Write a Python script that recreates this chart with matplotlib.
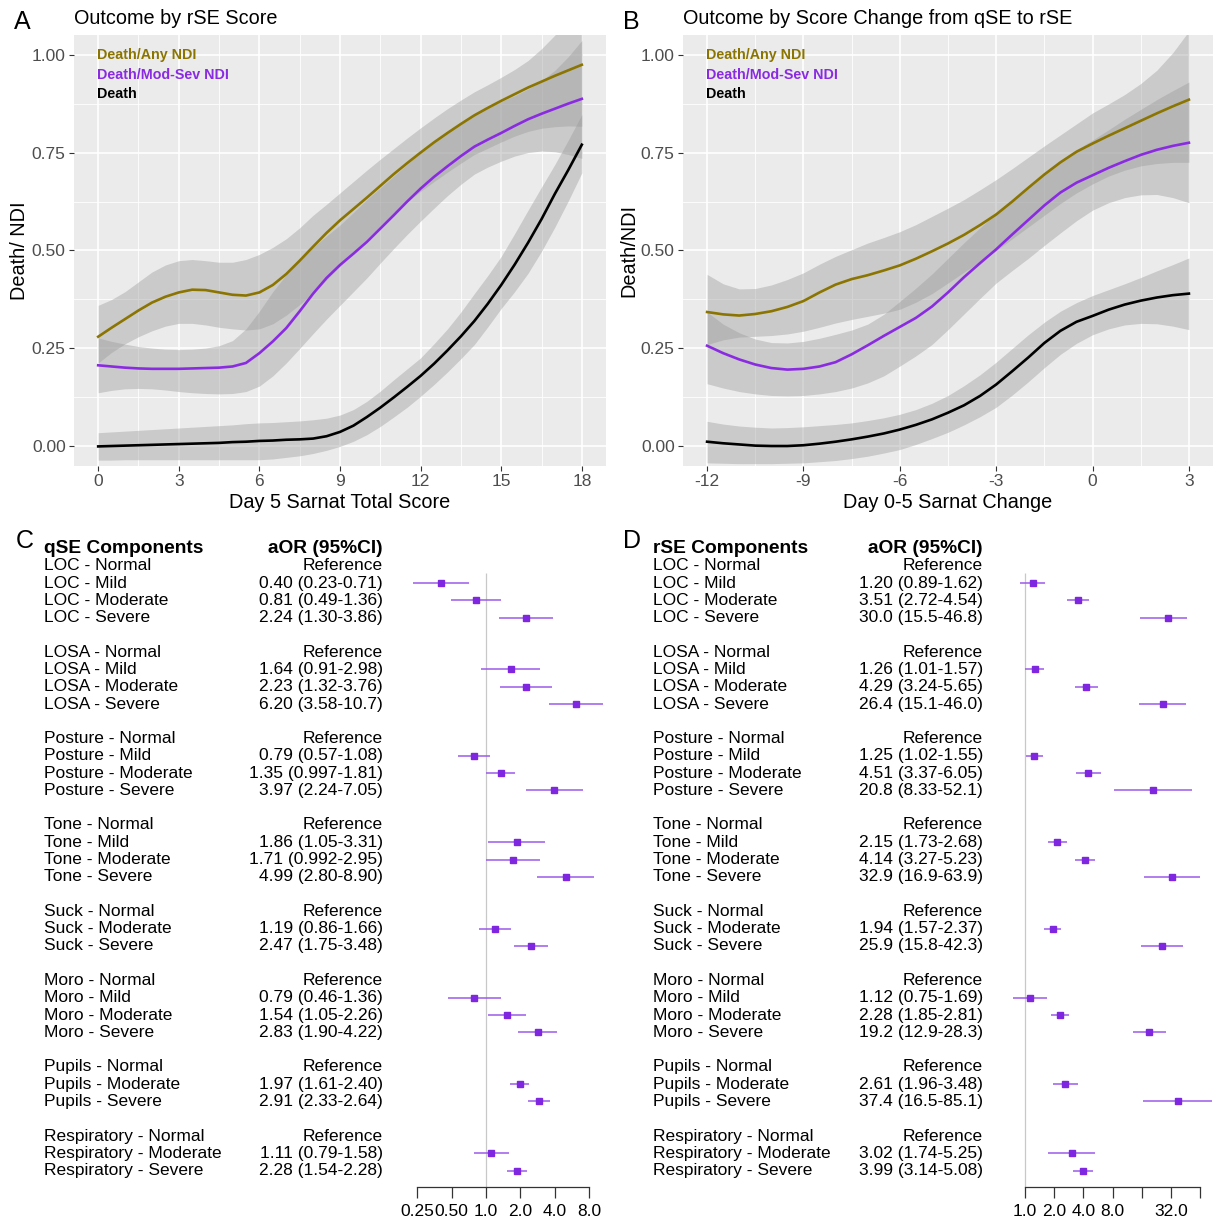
import numpy as np
import matplotlib
matplotlib.use("Agg")
import matplotlib.pyplot as plt
from matplotlib.ticker import FixedLocator

plt.rcParams['font.family'] = ['Liberation Sans', 'DejaVu Sans']

# ---------------- data: panel A (rSE score), read every half unit ----------------
xA = [0, 0.5, 1, 1.5, 2, 2.5, 3, 3.5, 4, 4.5, 5, 5.5, 6, 6.5, 7, 7.5, 8, 8.5, 9, 9.5,
      10, 10.5, 11, 11.5, 12, 12.5, 13, 13.5, 14, 14.5, 15, 15.5, 16, 16.5, 17, 17.5, 18]
anyA_mid = [0.280, 0.303, 0.325, 0.347, 0.367, 0.382, 0.393, 0.400, 0.399, 0.393, 0.387, 0.385,
            0.393, 0.412, 0.440, 0.474, 0.510, 0.545, 0.577, 0.606, 0.635, 0.665, 0.695, 0.723,
            0.750, 0.776, 0.800, 0.823, 0.845, 0.864, 0.882, 0.899, 0.916, 0.931, 0.946, 0.960, 0.974]
anyA_lo = [0.213, 0.240, 0.262, 0.280, 0.295, 0.307, 0.314, 0.314, 0.310, 0.304, 0.300, 0.297,
           0.300, 0.313, 0.335, 0.362, 0.392, 0.425, 0.460, 0.495, 0.530, 0.563, 0.595, 0.624,
           0.651, 0.676, 0.700, 0.723, 0.745, 0.761, 0.777, 0.792, 0.804, 0.812, 0.816, 0.818, 0.817]
anyA_hi = [0.360, 0.375, 0.395, 0.420, 0.445, 0.463, 0.474, 0.477, 0.474, 0.470, 0.470, 0.477,
           0.490, 0.508, 0.530, 0.558, 0.590, 0.618, 0.647, 0.676, 0.705, 0.733, 0.760, 0.787,
           0.813, 0.838, 0.862, 0.884, 0.905, 0.923, 0.942, 0.962, 0.985, 1.015, 1.050, 1.090, 1.130]
modA_mid = [0.207, 0.204, 0.201, 0.199, 0.198, 0.198, 0.198, 0.199, 0.200, 0.201, 0.204, 0.213,
            0.238, 0.268, 0.302, 0.345, 0.390, 0.430, 0.463, 0.492, 0.522, 0.556, 0.590, 0.625,
            0.658, 0.688, 0.715, 0.741, 0.765, 0.783, 0.800, 0.818, 0.835, 0.849, 0.862, 0.875, 0.887]
modA_lo = [0.137, 0.143, 0.147, 0.148, 0.147, 0.144, 0.140, 0.137, 0.135, 0.134, 0.135, 0.140,
           0.154, 0.180, 0.213, 0.250, 0.288, 0.325, 0.360, 0.395, 0.430, 0.468, 0.505, 0.541,
           0.575, 0.608, 0.640, 0.669, 0.695, 0.713, 0.728, 0.741, 0.750, 0.754, 0.752, 0.745, 0.735]
modA_hi = [0.277, 0.268, 0.261, 0.255, 0.251, 0.248, 0.247, 0.248, 0.251, 0.257, 0.270, 0.300,
           0.345, 0.395, 0.438, 0.476, 0.508, 0.537, 0.565, 0.597, 0.630, 0.660, 0.690, 0.720,
           0.750, 0.776, 0.800, 0.825, 0.848, 0.865, 0.880, 0.895, 0.912, 0.933, 0.960, 0.995, 1.036]
deathA_mid = [0.000, 0.001, 0.002, 0.003, 0.004, 0.005, 0.006, 0.007, 0.008, 0.009, 0.011, 0.012,
              0.014, 0.015, 0.017, 0.018, 0.020, 0.026, 0.037, 0.053, 0.075, 0.099, 0.125, 0.152,
              0.180, 0.211, 0.245, 0.281, 0.320, 0.364, 0.412, 0.464, 0.520, 0.580, 0.645, 0.706, 0.770]
deathA_lo = [-0.035, -0.035, -0.034, -0.034, -0.034, -0.034, -0.034, -0.034, -0.034, -0.034, -0.034, -0.034,
             -0.034, -0.032, -0.028, -0.024, -0.018, -0.010, 0.000, 0.013, 0.030, 0.051, 0.075, 0.100,
             0.128, 0.158, 0.190, 0.224, 0.260, 0.305, 0.352, 0.395, 0.442, 0.498, 0.560, 0.627, 0.698]
deathA_hi = [0.035, 0.037, 0.039, 0.041, 0.043, 0.045, 0.047, 0.049, 0.051, 0.053, 0.055, 0.058,
             0.060, 0.061, 0.063, 0.065, 0.068, 0.072, 0.080, 0.094, 0.115, 0.141, 0.170, 0.198,
             0.226, 0.262, 0.300, 0.343, 0.390, 0.436, 0.485, 0.543, 0.603, 0.662, 0.720, 0.782, 0.847]

# ---------------- data: panel B (score change), read every half unit ----------------
xB = [-12, -11.5, -11, -10.5, -10, -9.5, -9, -8.5, -8, -7.5, -7, -6.5, -6, -5.5, -5, -4.5,
      -4, -3.5, -3, -2.5, -2, -1.5, -1, -0.5, 0, 0.5, 1, 1.5, 2, 2.5, 3]
anyB_mid = [0.343, 0.337, 0.334, 0.338, 0.345, 0.356, 0.371, 0.393, 0.413, 0.427, 0.437, 0.449,
            0.462, 0.479, 0.498, 0.518, 0.540, 0.565, 0.592, 0.625, 0.660, 0.694, 0.725, 0.752,
            0.773, 0.793, 0.812, 0.831, 0.850, 0.868, 0.885]
anyB_lo = [0.260, 0.272, 0.279, 0.281, 0.283, 0.287, 0.294, 0.304, 0.315, 0.324, 0.332, 0.340,
           0.350, 0.368, 0.390, 0.417, 0.445, 0.472, 0.500, 0.530, 0.560, 0.590, 0.620, 0.647,
           0.670, 0.690, 0.705, 0.716, 0.722, 0.725, 0.725]
anyB_hi = [0.439, 0.415, 0.402, 0.403, 0.412, 0.426, 0.443, 0.465, 0.485, 0.502, 0.519, 0.533,
           0.548, 0.566, 0.587, 0.608, 0.630, 0.655, 0.681, 0.709, 0.738, 0.767, 0.795, 0.823,
           0.851, 0.874, 0.898, 0.926, 0.960, 1.005, 1.060]
modB_mid = [0.257, 0.238, 0.222, 0.209, 0.200, 0.196, 0.198, 0.204, 0.215, 0.235, 0.258, 0.282,
            0.305, 0.328, 0.357, 0.393, 0.432, 0.468, 0.503, 0.541, 0.578, 0.615, 0.648, 0.673,
            0.692, 0.711, 0.728, 0.744, 0.757, 0.767, 0.775]
modB_lo = [0.160, 0.149, 0.140, 0.134, 0.130, 0.129, 0.130, 0.134, 0.140, 0.149, 0.162, 0.180,
           0.205, 0.231, 0.260, 0.298, 0.338, 0.378, 0.417, 0.449, 0.480, 0.513, 0.545, 0.576,
           0.603, 0.622, 0.635, 0.642, 0.643, 0.635, 0.622]
modB_hi = [0.343, 0.312, 0.290, 0.274, 0.265, 0.264, 0.268, 0.276, 0.286, 0.297, 0.312, 0.337,
           0.370, 0.404, 0.440, 0.480, 0.520, 0.558, 0.595, 0.630, 0.665, 0.698, 0.730, 0.757,
           0.782, 0.808, 0.835, 0.860, 0.885, 0.908, 0.930]
deathB_mid = [0.012, 0.008, 0.005, 0.002, 0.001, 0.001, 0.003, 0.007, 0.012, 0.018, 0.025, 0.033,
              0.043, 0.055, 0.069, 0.086, 0.105, 0.129, 0.158, 0.192, 0.227, 0.264, 0.295, 0.318,
              0.333, 0.349, 0.362, 0.372, 0.380, 0.386, 0.390]
deathB_lo = [-0.042, -0.043, -0.044, -0.044, -0.044, -0.043, -0.042, -0.039, -0.036, -0.031, -0.025, -0.017,
             -0.008, 0.005, 0.020, 0.036, 0.055, 0.076, 0.100, 0.131, 0.165, 0.201, 0.235, 0.263,
             0.285, 0.300, 0.310, 0.314, 0.313, 0.307, 0.298]
deathB_hi = [0.064, 0.057, 0.052, 0.049, 0.047, 0.048, 0.050, 0.053, 0.056, 0.060, 0.066, 0.073,
             0.082, 0.094, 0.110, 0.130, 0.155, 0.183, 0.215, 0.250, 0.285, 0.317, 0.345, 0.367,
             0.385, 0.400, 0.415, 0.431, 0.448, 0.464, 0.481]

outcomes = ["Death/Any NDI", "Death/Mod-Sev NDI", "Death"]
outcome_colors = ["#8B7500", "#8A2BE2", "#000000"]

# ---------------- data: forest plots ----------------
components = ["LOC", "LOSA", "Posture", "Tone", "Suck", "Moro", "Pupils", "Respiratory"]
levels = [["Normal", "Mild", "Moderate", "Severe"],
          ["Normal", "Mild", "Moderate", "Severe"],
          ["Normal", "Mild", "Moderate", "Severe"],
          ["Normal", "Mild", "Moderate", "Severe"],
          ["Normal", "Moderate", "Severe"],
          ["Normal", "Mild", "Moderate", "Severe"],
          ["Normal", "Moderate", "Severe"],
          ["Normal", "Moderate", "Severe"]]

C_or = [0.40, 0.81, 2.24, 1.64, 2.23, 6.20, 0.79, 1.35, 3.97, 1.86, 1.71, 4.99, 1.19, 2.47, 0.79, 1.54, 2.83, 1.97, 2.91, 1.11, 1.88]
C_lo = [0.23, 0.49, 1.30, 0.91, 1.32, 3.58, 0.57, 0.997, 2.24, 1.05, 0.992, 2.80, 0.86, 1.75, 0.46, 1.05, 1.90, 1.61, 2.33, 0.79, 1.54]
C_hi = [0.71, 1.36, 3.86, 2.98, 3.76, 10.7, 1.08, 1.81, 7.05, 3.31, 2.95, 8.90, 1.66, 3.48, 1.36, 2.26, 4.22, 2.40, 3.64, 1.58, 2.28]
C_txt = ["0.40 (0.23-0.71)", "0.81 (0.49-1.36)", "2.24 (1.30-3.86)",
         "1.64 (0.91-2.98)", "2.23 (1.32-3.76)", "6.20 (3.58-10.7)",
         "0.79 (0.57-1.08)", "1.35 (0.997-1.81)", "3.97 (2.24-7.05)",
         "1.86 (1.05-3.31)", "1.71 (0.992-2.95)", "4.99 (2.80-8.90)",
         "1.19 (0.86-1.66)", "2.47 (1.75-3.48)",
         "0.79 (0.46-1.36)", "1.54 (1.05-2.26)", "2.83 (1.90-4.22)",
         "1.97 (1.61-2.40)", "2.91 (2.33-2.64)",
         "1.11 (0.79-1.58)", "2.28 (1.54-2.28)"]
C_ticks = [0.25, 0.5, 1, 2, 4, 8]
C_ticklabels = ["0.25", "0.50", "1.0", "2.0", "4.0", "8.0"]

D_or = [1.20, 3.51, 30.0, 1.26, 4.29, 26.4, 1.25, 4.51, 20.8, 2.15, 4.14, 32.9, 1.94, 25.9, 1.12, 2.28, 19.2, 2.61, 37.4, 3.02, 3.99]
D_lo = [0.89, 2.72, 15.5, 1.01, 3.24, 15.1, 1.02, 3.37, 8.33, 1.73, 3.27, 16.9, 1.57, 15.8, 0.75, 1.85, 12.9, 1.96, 16.5, 1.74, 3.14]
D_hi = [1.62, 4.54, 46.8, 1.57, 5.65, 46.0, 1.55, 6.05, 52.1, 2.68, 5.23, 63.9, 2.37, 42.3, 1.69, 2.81, 28.3, 3.48, 85.1, 5.25, 5.08]
D_txt = ["1.20 (0.89-1.62)", "3.51 (2.72-4.54)", "30.0 (15.5-46.8)",
         "1.26 (1.01-1.57)", "4.29 (3.24-5.65)", "26.4 (15.1-46.0)",
         "1.25 (1.02-1.55)", "4.51 (3.37-6.05)", "20.8 (8.33-52.1)",
         "2.15 (1.73-2.68)", "4.14 (3.27-5.23)", "32.9 (16.9-63.9)",
         "1.94 (1.57-2.37)", "25.9 (15.8-42.3)",
         "1.12 (0.75-1.69)", "2.28 (1.85-2.81)", "19.2 (12.9-28.3)",
         "2.61 (1.96-3.48)", "37.4 (16.5-85.1)",
         "3.02 (1.74-5.25)", "3.99 (3.14-5.08)"]
D_ticks = [1, 2, 4, 8, 16, 32, 64]
D_ticklabels = ["1.0", "2.0", "4.0", "8.0", "", "32.0", ""]

# ---------------- figure ----------------
W, H = 1219, 1220
fig = plt.figure(figsize=(W / 100, H / 100), dpi=100)


def box(l, t, r, b):
    return [l / W, 1 - b / H, (r - l) / W, (b - t) / H]


def smooth_panel(rect, x, mids, los, his, xlim, xticks, xminor, title, xlabel,
                 ylabel, letter, letter_px, title_px):
    ax = fig.add_axes(box(*rect))
    ax.set_facecolor('#EBEBEB')
    ax.set_xlim(*xlim)
    ax.set_ylim(-0.05, 1.05)
    ax.set_xticks(xticks)
    ax.set_xticklabels([str(t) for t in xticks])
    ax.xaxis.set_minor_locator(FixedLocator(xminor))
    ax.set_yticks([0, 0.25, 0.5, 0.75, 1.0])
    ax.set_yticklabels(["0.00", "0.25", "0.50", "0.75", "1.00"])
    ax.yaxis.set_minor_locator(FixedLocator([0.125, 0.375, 0.625, 0.875]))
    ax.grid(which='major', color='white', lw=1.2)
    ax.grid(which='minor', color='white', lw=0.6)
    ax.set_axisbelow(True)
    for s in ax.spines.values():
        s.set_visible(False)
    ax.tick_params(which='major', length=3.5, width=0.8, color='#333333',
                   labelsize=12.5, labelcolor='#4D4D4D', pad=2.5)
    ax.tick_params(which='minor', length=0)
    for mid, lo, hi, col in zip(mids, los, his, outcome_colors):
        ax.fill_between(x, lo, hi, color='#999999', alpha=0.4, lw=0, zorder=2)
        ax.plot(x, mid, color=col, lw=1.9, zorder=3, solid_joinstyle='round')
    for i, (lab, col) in enumerate(zip(outcomes, outcome_colors)):
        ax.text(0.0435, 0.9536 - i * 0.0455, lab, transform=ax.transAxes,
                color=col, fontsize=10.3, fontweight='bold', va='center', ha='left')
    ax.set_xlabel(xlabel, fontsize=14.3, labelpad=3)
    ax.set_ylabel(ylabel, fontsize=14.3, labelpad=2)
    fig.text(title_px[0] / W, 1 - title_px[1] / H, title, fontsize=14.3,
             va='center', ha='left')
    fig.text(letter_px[0] / W, 1 - letter_px[1] / H, letter, fontsize=18,
             va='center', ha='left')
    return ax


smooth_panel((74, 35, 606, 466), xA, [anyA_mid, modA_mid, deathA_mid],
             [anyA_lo, modA_lo, deathA_lo], [anyA_hi, modA_hi, deathA_hi],
             (-0.9, 18.9), [0, 3, 6, 9, 12, 15, 18], [1.5, 4.5, 7.5, 10.5, 13.5, 16.5],
             "Outcome by rSE Score", "Day 5 Sarnat Total Score", "Death/ NDI",
             "A", (14, 22), (74, 18))
smooth_panel((683, 35, 1213, 466), xB, [anyB_mid, modB_mid, deathB_mid],
             [anyB_lo, modB_lo, deathB_lo], [anyB_hi, modB_hi, deathB_hi],
             (-12.75, 3.75), [-12, -9, -6, -3, 0, 3], [-10.5, -7.5, -4.5, -1.5, 1.5],
             "Outcome by Score Change from qSE to rSE", "Day 0-5 Sarnat Change", "Death/NDI",
             "B", (623, 22), (683, 18))


def build_rows(ors, los, his, txts):
    rows = []
    k = 0
    for gi, (comp, levs) in enumerate(zip(components, levels)):
        for lev in levs:
            lab = f"{comp} - {lev}"
            if lev == "Normal":
                rows.append((lab, "Reference", None))
            else:
                rows.append((lab, txts[k], (ors[k], los[k], his[k])))
                k += 1
        if gi < len(components) - 1:
            rows.append(("", "", None))
    return rows


ROW0, ROWSTEP = 548.5, 17.28
TOP_PX, AXIS_PX = 538.0, 1187.0
ylim_bottom = (AXIS_PX - ROW0) / ROWSTEP
ylim_top = (TOP_PX - ROW0) / ROWSTEP


def forest_panel(text_rect, label_x, value_x, forest_rect, xlim, header,
                 ors, los, his, txts, ticks, ticklabels, letter, letter_px):
    rows = build_rows(ors, los, his, txts)
    axt = fig.add_axes(box(*text_rect))
    axt.set_xlim(text_rect[0], text_rect[2])
    axt.set_ylim(ylim_bottom, ylim_top)
    axt.axis('off')
    axt.text(label_x, 0, header, fontsize=13.8, fontweight='bold', ha='left', va='center')
    axt.text(value_x, 0, "aOR (95%CI)", fontsize=13.8, fontweight='bold', ha='right', va='center')
    for i, (lab, txt, est) in enumerate(rows, start=1):
        if lab:
            axt.text(label_x, i, lab, fontsize=12.5, ha='left', va='center')
            axt.text(value_x, i, txt, fontsize=12.5, ha='right', va='center')
    axf = fig.add_axes(box(*forest_rect))
    axf.set_xscale('log', base=2)
    axf.set_xlim(*xlim)
    axf.set_ylim(ylim_bottom, ylim_top)
    axf.patch.set_visible(False)
    for s in ['top', 'left', 'right']:
        axf.spines[s].set_visible(False)
    axf.spines['bottom'].set_bounds(ticks[0], ticks[-1])
    axf.spines['bottom'].set_color('#333333')
    axf.spines['bottom'].set_linewidth(0.9)
    axf.set_yticks([])
    axf.set_xticks(ticks)
    axf.set_xticklabels(ticklabels)
    axf.xaxis.set_minor_locator(FixedLocator([]))
    axf.tick_params(axis='x', length=8, width=0.9, color='#333333',
                    labelsize=12.5, pad=4)
    axf.vlines(1, 1.4, ylim_bottom, color='#C8C8C8', lw=0.9, zorder=1)
    for i, (lab, txt, est) in enumerate(rows, start=1):
        if est is None:
            continue
        o, lo, hi = est
        axf.hlines(i, lo, hi, color='#9B5BE8', lw=1.1, zorder=2)
        axf.plot([o], [i], marker='s', ms=4.6, color='#7F27E0', mec='#7F27E0', zorder=3)
    fig.text(letter_px[0] / W, 1 - letter_px[1] / H, letter, fontsize=18,
             va='center', ha='left')


forest_panel((0, TOP_PX, 400, AXIS_PX), 44, 383, (400, TOP_PX, 612, AXIS_PX),
             (2 ** ((400 - 486) / 34.33), 2 ** ((612 - 486) / 34.33)),
             "qSE Components", C_or, C_lo, C_hi, C_txt, C_ticks, C_ticklabels,
             "C", (16, 541))
forest_panel((610, TOP_PX, 1005, AXIS_PX), 653, 983, (1005, TOP_PX, 1219, AXIS_PX),
             (2 ** ((1005 - 1025) / 29.2), 2 ** ((1219 - 1025) / 29.2)),
             "rSE Components", D_or, D_lo, D_hi, D_txt, D_ticks, D_ticklabels,
             "D", (623, 541))

fig.savefig("out.png", dpi=100, facecolor='white')
